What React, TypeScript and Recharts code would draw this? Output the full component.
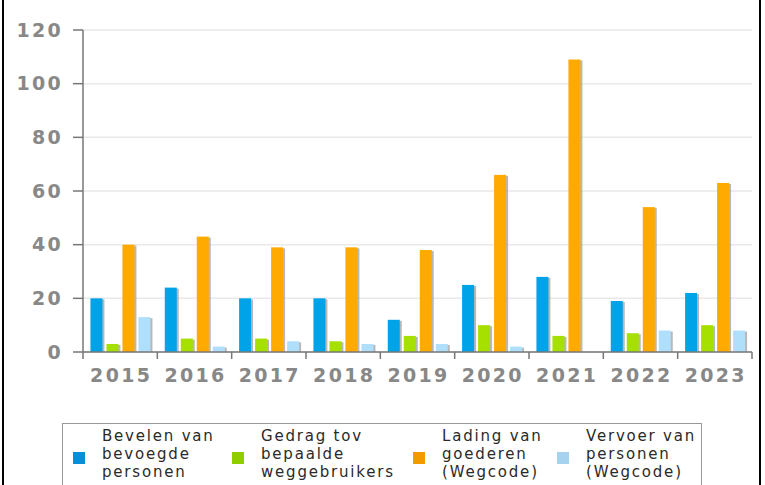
import { BarChart, Bar, XAxis, YAxis, CartesianGrid } from 'recharts';

const years = ['2015', '2016', '2017', '2018', '2019', '2020', '2021', '2022', '2023'];
const bevelen = [20, 24, 20, 20, 12, 25, 28, 19, 22];
const gedrag = [3, 5, 5, 4, 6, 10, 6, 7, 10];
const lading = [40, 43, 39, 39, 38, 66, 109, 54, 63];
const vervoer = [13, 2, 4, 3, 3, 2, 0, 8, 8];
const yTicks = [0, 20, 40, 60, 80, 100, 120];

const series = [
  { key: 'bevelen', label: ['Bevelen van', 'bevoegde', 'personen'], fill: '#00a3e8', swatch: '#0a8fd6', width: 159 },
  { key: 'gedrag', label: ['Gedrag tov', 'bepaalde', 'weggebruikers'], fill: '#a6e000', swatch: '#8fcc00', width: 181 },
  { key: 'lading', label: ['Lading van', 'goederen', '(Wegcode)'], fill: '#ffaa00', swatch: '#f29a00', width: 144 },
  { key: 'vervoer', label: ['Vervoer van', 'personen', '(Wegcode)'], fill: '#b0dffc', swatch: '#a6d2f0', width: 130 },
];

const data = years.map((year, i) => ({
  year,
  bevelen: bevelen[i],
  gedrag: gedrag[i],
  lading: lading[i],
  vervoer: vervoer[i],
}));

const W = 765;
const H = 400;
const M = { top: 30, right: 13, left: 0, bottom: 8 };
const Y_W = 83;
const X_TICK = 7;
const X_MARGIN = 10;

const tickFont = { fontFamily: 'DejaVu Sans', fontSize: 19, fontWeight: 700, letterSpacing: 2.3 };

function ShadowBar(props: any) {
  const { x, y, width, height, fill } = props;
  if (!height || height <= 0) return null;
  return (
    <g>
      <rect x={x + 2} y={y + 1} width={width} height={Math.max(height - 1, 0)} fill="#9a9a9a" opacity={0.7} />
      <rect x={x} y={y} width={width} height={height} fill={fill} />
    </g>
  );
}

function YearTick(props: any) {
  const { x, y, payload, index, visibleTicksCount } = props;
  const count = visibleTicksCount || years.length;
  const band = (W - Y_W - M.right) / count;
  const axisY = y - X_TICK - X_MARGIN;
  return (
    <g>
      <line x1={x - band / 2} x2={x - band / 2} y1={axisY} y2={axisY + X_TICK} stroke="#777" strokeWidth={1.5} />
      {index === count - 1 && (
        <line x1={x + band / 2} x2={x + band / 2} y1={axisY} y2={axisY + X_TICK} stroke="#777" strokeWidth={1.5} />
      )}
      <text x={x + 1} y={y} dy="0.71em" textAnchor="middle" fill="#888" style={tickFont}>
        {payload.value}
      </text>
    </g>
  );
}

function LegendBox() {
  return (
    <div
      style={{
        position: 'absolute',
        left: 62,
        top: 423,
        width: 640,
        height: 80,
        border: '1.5px solid #999',
        boxSizing: 'border-box',
        display: 'flex',
        paddingLeft: 10,
        paddingTop: 3,
        fontFamily: 'DejaVu Sans',
        fontSize: 15,
        lineHeight: '18px',
        letterSpacing: 1.8,
        color: '#2a2a2a',
      }}
    >
      {series.map((s) => (
        <div key={s.key} style={{ display: 'flex', alignItems: 'flex-start', width: s.width, flex: 'none' }}>
          <div style={{ width: 12, height: 12, background: s.swatch, marginTop: 25, marginRight: 17, flex: 'none' }} />
          <div style={{ whiteSpace: 'nowrap' }}>
            {s.label.map((line) => (
              <div key={line}>{line}</div>
            ))}
          </div>
        </div>
      ))}
    </div>
  );
}

export default function App() {
  return (
    <div style={{ position: 'absolute', left: 0, top: 0, width: W, height: 485, overflow: 'hidden', background: '#fff' }}>
      <div
        style={{
          position: 'absolute',
          left: 2,
          top: -10,
          width: 759,
          height: 600,
          border: '2px solid #000',
          boxSizing: 'border-box',
        }}
      />
      <div style={{ position: 'absolute', left: 0, top: 0 }}>
        <BarChart width={W} height={H} data={data} margin={M} barCategoryGap="10%" barGap={4}>
          <CartesianGrid vertical={false} stroke="#e9e9e9" strokeWidth={1.5} />
          <XAxis
            dataKey="year"
            height={40}
            tickLine={false}
            tickSize={X_TICK}
            tickMargin={X_MARGIN}
            axisLine={{ stroke: '#777', strokeWidth: 1.5 }}
            tick={<YearTick />}
            interval={0}
          />
          <YAxis
            width={Y_W}
            domain={[0, 120]}
            ticks={yTicks}
            tickSize={10}
            tickMargin={10}
            axisLine={{ stroke: '#777', strokeWidth: 1.5 }}
            tickLine={{ stroke: '#777', strokeWidth: 1.5 }}
            tick={{ fill: '#888', ...tickFont }}
          />
          {series.map((s) => (
            <Bar key={s.key} dataKey={s.key} fill={s.fill} shape={<ShadowBar />} isAnimationActive={false} />
          ))}
        </BarChart>
      </div>
      <LegendBox />
    </div>
  );
}
